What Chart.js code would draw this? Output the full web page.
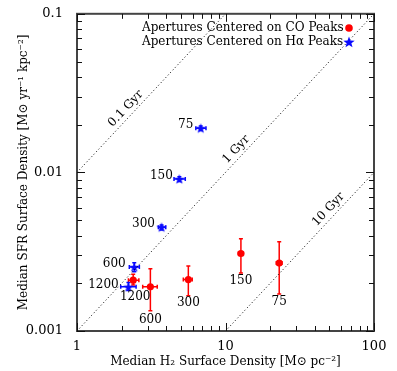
<!DOCTYPE html>
<html>
<head>
<meta charset="utf-8">
<script src="https://cdn.jsdelivr.net/npm/chart.js@4/dist/chart.umd.min.js"></script>
<style>
  html, body { margin: 0; padding: 0; background: #fff; }
</style>
</head>
<body>
<canvas id="c" width="397" height="371"></canvas>
<script>
// apertures centered on CO peaks (red circles)
const coLabels = ['1200', '600', '300', '150', '75'];
const coX   = [2.39, 3.12, 5.62, 12.7, 23.0];
const coXLo = [2.22, 2.77, 5.20, 12.2, 22.0];
const coXHi = [2.61, 3.47, 5.97, 13.2, 24.0];
const coY   = [0.00209, 0.00190, 0.00211, 0.00308, 0.00268];
const coYLo = [0.00195, 0.00134, 0.00167, 0.00232, 0.00171];
const coYHi = [0.00228, 0.00247, 0.00257, 0.00382, 0.00366];

// apertures centered on H-alpha peaks (blue stars)
const haLabels = ['1200', '600', '300', '150', '75'];
const haX   = [2.22, 2.43, 3.71, 4.89, 6.81];
const haXLo = [1.97, 2.25, 3.53, 4.50, 6.31];
const haXHi = [2.50, 2.63, 3.96, 5.36, 7.39];
const haY   = [0.00190, 0.00253, 0.00451, 0.00908, 0.0190];
const haYLo = [0.00180, 0.00236, 0.00434, 0.00875, 0.0184];
const haYHi = [0.00202, 0.00269, 0.00466, 0.00940, 0.0196];

// constant depletion time lines
const gyrLabels = ['0.1 Gyr', '1 Gyr', '10 Gyr'];
const gyrX0 = [1, 1, 10];
const gyrY0 = [0.01, 0.001, 0.001];
const gyrX1 = [10, 100, 100];
const gyrY1 = [0.1, 0.1, 0.01];
const gyrLabelX = [2.33, 12.9, 54];

// tick labels
const xTickVals = [1, 10, 100];
const xTickLabels = ['1', '10', '100'];
const yTickVals = [0.001, 0.01, 0.1];
const yTickLabels = ['0.001', '0.01', '0.1'];
const minorSteps = [2, 3, 4, 5, 6, 7, 8, 9];

const FONT = 'DejaVu Serif';
const RED = '#ff0000';
const BLUE = '#0a0aff';

// label offsets in px (text centre relative to the point)
const coLabelOff = [[2, 17], [0, 33], [0, 23], [0, 27], [0, 39]];
const haLabelOff = [[-25, -2], [-20, -3], [-18, -3], [-18, -3], [-15, -3]];

function starPath(ctx, cx, cy, R, r) {
  ctx.beginPath();
  for (let i = 0; i < 10; i++) {
    const rad = i % 2 ? r : R;
    const a = -Math.PI / 2 + i * Math.PI / 5;
    ctx.lineTo(cx + rad * Math.cos(a), cy + rad * Math.sin(a));
  }
  ctx.closePath();
}

const starImg = document.createElement('canvas');
starImg.width = 12; starImg.height = 12;
(function () {
  const g = starImg.getContext('2d');
  g.fillStyle = BLUE;
  starPath(g, 6, 6.5, 5.4, 2.2);
  g.fill();
})();

function tickLabel(v, vals, labels) {
  const i = vals.findIndex(t => Math.abs(Math.log10(t) - Math.log10(v)) < 1e-6);
  return i >= 0 ? labels[i] : '';
}

// major decades plus 2..9 minors, positioned by the scale
function tickList(vals) {
  const out = [];
  vals.forEach((d, i) => {
    out.push({ v: d, major: true });
    if (i < vals.length - 1) minorSteps.forEach(m => out.push({ v: d * m, major: false }));
  });
  return out;
}

const pts = (xs, ys) => xs.map((x, i) => ({ x, y: ys[i] }));

const errorBars = {
  id: 'errorBars',
  beforeDatasetsDraw(chart) {
    const { ctx, scales: { x, y } } = chart;
    const draw = (xs, xl, xh, ys, yl, yh, color) => {
      ctx.strokeStyle = color;
      ctx.lineWidth = 1.5;
      ctx.setLineDash([]);
      xs.forEach((v, i) => {
        const px = x.getPixelForValue(v), py = y.getPixelForValue(ys[i]);
        const x0 = x.getPixelForValue(xl[i]), x1 = x.getPixelForValue(xh[i]);
        const y0 = y.getPixelForValue(yl[i]), y1 = y.getPixelForValue(yh[i]);
        ctx.beginPath();
        ctx.moveTo(x0, py); ctx.lineTo(x1, py);
        ctx.moveTo(px, y0); ctx.lineTo(px, y1);
        // caps
        ctx.moveTo(x0, py - 2); ctx.lineTo(x0, py + 2);
        ctx.moveTo(x1, py - 2); ctx.lineTo(x1, py + 2);
        ctx.moveTo(px - 2, y0); ctx.lineTo(px + 2, y0);
        ctx.moveTo(px - 2, y1); ctx.lineTo(px + 2, y1);
        ctx.stroke();
      });
    };
    ctx.save();
    draw(coX, coXLo, coXHi, coY, coYLo, coYHi, RED);
    draw(haX, haXLo, haXHi, haY, haYLo, haYHi, BLUE);
    ctx.restore();
  }
};

const decorations = {
  id: 'decorations',
  afterDraw(chart) {
    const { ctx, chartArea: a, scales: { x, y } } = chart;
    ctx.save();
    ctx.setLineDash([]);

    // frame
    ctx.lineWidth = 2;
    ctx.strokeStyle = '#444';
    ctx.strokeRect(a.left, a.top, a.right - a.left, a.bottom - a.top);

    // inward ticks on all four sides
    ctx.fillStyle = '#111';
    tickList(xTickVals).forEach(t => {
      const px = Math.round(x.getPixelForValue(t.v));
      const len = t.major ? 8 : 5;
      ctx.fillRect(px, a.bottom - len, 1, len);
      ctx.fillRect(px, a.top, 1, len);
    });
    tickList(yTickVals).forEach(t => {
      const py = Math.round(y.getPixelForValue(t.v));
      const len = t.major ? 8 : 5;
      ctx.fillRect(a.left, py, len, 1);
      ctx.fillRect(a.right - len, py, len, 1);
    });

    // point labels
    ctx.fillStyle = '#000';
    ctx.font = '12px "' + FONT + '"';
    ctx.textAlign = 'center';
    ctx.textBaseline = 'middle';
    coLabels.forEach((s, i) => {
      ctx.fillText(s, x.getPixelForValue(coX[i]) + coLabelOff[i][0], y.getPixelForValue(coY[i]) + coLabelOff[i][1]);
    });
    haLabels.forEach((s, i) => {
      ctx.fillText(s, x.getPixelForValue(haX[i]) + haLabelOff[i][0], y.getPixelForValue(haY[i]) + haLabelOff[i][1]);
    });

    // depletion time labels, rotated along the lines
    gyrLabels.forEach((s, i) => {
      const ax = x.getPixelForValue(gyrX0[i]), ay = y.getPixelForValue(gyrY0[i]);
      const bx = x.getPixelForValue(gyrX1[i]), by = y.getPixelForValue(gyrY1[i]);
      const ang = Math.atan2(by - ay, bx - ax);
      const lx = x.getPixelForValue(gyrLabelX[i]);
      const ly = ay + (by - ay) * (lx - ax) / (bx - ax);
      ctx.save();
      ctx.translate(lx, ly);
      ctx.rotate(ang);
      ctx.fillText(s, 0, -8);
      ctx.restore();
    });

    // legend
    ctx.textAlign = 'left';
    ctx.fillText('Apertures Centered on CO Peaks', 142, 28);
    ctx.fillText('Apertures Centered on H\u03b1 Peaks', 142, 42);
    ctx.fillStyle = RED;
    ctx.beginPath();
    ctx.arc(349, 28, 3.8, 0, Math.PI * 2);
    ctx.fill();
    ctx.fillStyle = BLUE;
    starPath(ctx, 349, 42.5, 6, 2.5);
    ctx.fill();

    ctx.restore();
  }
};

const gyrSets = gyrLabels.map((s, i) => ({
  type: 'line',
  label: s,
  data: [{ x: gyrX0[i], y: gyrY0[i] }, { x: gyrX1[i], y: gyrY1[i] }],
  borderColor: '#000',
  borderWidth: 1,
  borderDash: [1, 2.5],
  pointRadius: 0,
  fill: false
}));

new Chart(document.getElementById('c'), {
  type: 'scatter',
  data: {
    datasets: [
      ...gyrSets,
      {
        label: 'CO',
        data: pts(coX, coY),
        pointStyle: 'circle',
        pointRadius: 3.6,
        backgroundColor: RED,
        borderColor: RED,
        borderWidth: 0
      },
      {
        label: 'Halpha',
        data: pts(haX, haY),
        pointStyle: starImg,
        pointRadius: 6
      }
    ]
  },
  options: {
    responsive: false,
    animation: false,
    devicePixelRatio: 1,
    layout: { padding: { top: 8, right: 23, left: 0, bottom: 0 } },
    plugins: { legend: { display: false }, tooltip: { enabled: false } },
    scales: {
      x: {
        type: 'logarithmic',
        position: 'bottom',
        min: 1, max: 100,
        grid: { display: false },
        border: { display: false },
        ticks: {
          autoSkip: false, maxRotation: 0, padding: 0, color: '#000',
          font: { family: FONT, size: 13 },
          callback: v => tickLabel(v, xTickVals, xTickLabels)
        },
        title: {
          display: true, color: '#000',
          text: 'Median H\u2082 Surface Density [M\u2299 pc\u207b\u00b2]',
          font: { family: FONT, size: 12 },
          padding: { top: 0, bottom: 2 }
        },
        afterFit: s => { s.height = 40; }
      },
      y: {
        type: 'logarithmic',
        position: 'left',
        min: 0.001, max: 0.1,
        grid: { display: false },
        border: { display: false },
        ticks: {
          autoSkip: false, padding: 6, color: '#000',
          font: { family: FONT, size: 13 },
          callback: v => tickLabel(v, yTickVals, yTickLabels)
        },
        title: {
          display: true, color: '#000',
          text: 'Median SFR Surface Density [M\u2299 yr\u207b\u00b9 kpc\u207b\u00b2]',
          font: { family: FONT, size: 12 },
          padding: { top: 17, bottom: 0 }
        },
        afterFit: s => { s.width = 77; }
      }
    }
  },
  plugins: [errorBars, decorations]
});
</script>
</body>
</html>
